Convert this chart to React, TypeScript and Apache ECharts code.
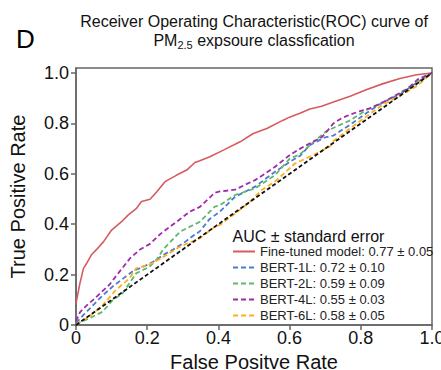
import { useEffect, useRef } from "react";
import * as echarts from "echarts";

const FONT = "'Liberation Sans', Arial, Helvetica, sans-serif";

const seriesNames = [
  "Fine-tuned model: 0.77 ± 0.05",
  "BERT-1L: 0.72 ± 0.10",
  "BERT-2L: 0.59 ± 0.09",
  "BERT-4L: 0.55 ± 0.03",
  "BERT-6L: 0.58 ± 0.05",
];

const seriesColors = ["#d65b5e", "#4a7ccc", "#5fb86a", "#a02aa8", "#ffae1f"];

const fineTunedRoc = [
  [0, 0.086], [0.011, 0.165], [0.021, 0.225], [0.03, 0.245], [0.044, 0.28], [0.058, 0.3],
  [0.077, 0.33], [0.1, 0.377], [0.128, 0.41], [0.147, 0.437], [0.17, 0.463], [0.184, 0.49],
  [0.208, 0.499], [0.227, 0.529], [0.25, 0.569], [0.283, 0.595], [0.311, 0.615], [0.334, 0.645],
  [0.348, 0.652], [0.376, 0.668], [0.414, 0.694], [0.461, 0.727], [0.498, 0.76], [0.536, 0.78],
  [0.582, 0.813], [0.6, 0.825], [0.629, 0.84], [0.657, 0.857], [0.69, 0.868], [0.723, 0.885],
  [0.77, 0.908], [0.817, 0.935], [0.863, 0.958], [0.91, 0.978], [0.957, 0.993], [1, 1],
];

const bert1LRoc = [
  [0, 0.008], [0.021, 0.04], [0.049, 0.08], [0.077, 0.12], [0.105, 0.155], [0.133, 0.185],
  [0.161, 0.215], [0.189, 0.231], [0.217, 0.251], [0.245, 0.278], [0.273, 0.3], [0.301, 0.324],
  [0.33, 0.355], [0.348, 0.372], [0.375, 0.42], [0.404, 0.45], [0.447, 0.509], [0.503, 0.549],
  [0.559, 0.608], [0.601, 0.648], [0.629, 0.671], [0.657, 0.714], [0.7, 0.745], [0.723, 0.752],
  [0.77, 0.795], [0.817, 0.842], [0.863, 0.885], [0.91, 0.915], [0.957, 0.962], [1, 1],
];

const bert2LRoc = [
  [0, 0.003], [0.037, 0.026], [0.075, 0.053], [0.103, 0.099], [0.131, 0.126], [0.169, 0.205],
  [0.206, 0.231], [0.227, 0.26], [0.245, 0.3], [0.292, 0.37], [0.348, 0.41], [0.39, 0.47],
  [0.404, 0.475], [0.447, 0.516], [0.503, 0.542], [0.559, 0.595], [0.601, 0.661], [0.629, 0.677],
  [0.657, 0.714], [0.704, 0.77], [0.77, 0.812], [0.817, 0.855], [0.863, 0.882], [0.91, 0.922],
  [0.957, 0.962], [1, 1],
];

const bert4LRoc = [
  [0, 0.015], [0.011, 0.05], [0.028, 0.075], [0.056, 0.11], [0.094, 0.16], [0.124, 0.215],
  [0.152, 0.265], [0.18, 0.3], [0.208, 0.322], [0.236, 0.36], [0.264, 0.39], [0.292, 0.42],
  [0.32, 0.45], [0.348, 0.469], [0.39, 0.525], [0.404, 0.53], [0.447, 0.537], [0.48, 0.56],
  [0.503, 0.575], [0.53, 0.6], [0.559, 0.628], [0.601, 0.675], [0.63, 0.7], [0.657, 0.721],
  [0.69, 0.745], [0.704, 0.767], [0.723, 0.8], [0.745, 0.82], [0.77, 0.835], [0.8, 0.85],
  [0.826, 0.86], [0.863, 0.885], [0.89, 0.905], [0.93, 0.935], [0.96, 0.975], [1, 1],
];

const bert6LRoc = [
  [0, 0.003], [0.037, 0.033], [0.075, 0.079], [0.112, 0.139], [0.15, 0.185], [0.169, 0.225],
  [0.206, 0.24], [0.236, 0.262], [0.292, 0.311], [0.348, 0.344], [0.39, 0.39], [0.404, 0.397],
  [0.447, 0.443], [0.484, 0.483], [0.522, 0.536], [0.559, 0.569], [0.615, 0.641], [0.657, 0.668],
  [0.713, 0.708], [0.723, 0.73], [0.77, 0.78], [0.817, 0.829], [0.863, 0.876], [0.91, 0.909],
  [0.957, 0.948], [1, 1],
];

const chanceLine = [[0, 0], [1, 1]];

const tickValues = [0, 0.2, 0.4, 0.6, 0.8, 1.0];

const rocData = [fineTunedRoc, bert1LRoc, bert2LRoc, bert4LRoc, bert6LRoc];

const fmt = (v: number) => (v === 0 ? "0" : v.toFixed(1));

export default function App() {
  const ref = useRef<HTMLDivElement>(null);
  useEffect(() => {
    const chart = echarts.init(ref.current!, null, { renderer: "svg" });
    const axisLineStyle = { color: "#666", width: 1.5 };
    chart.setOption({
      animation: false,
      backgroundColor: "#fff",
      textStyle: { fontFamily: FONT },
      grid: {
        left: 76,
        right: 9,
        top: 68,
        bottom: 45,
        containLabel: false,
        outerBoundsMode: "none",
        show: true,
        borderColor: "#666",
        borderWidth: 1.5,
        backgroundColor: "transparent",
      },
      xAxis: {
        type: "value",
        min: 0,
        max: 1,
        interval: 0.2,
        name: "False Positve Rate",
        nameLocation: "middle",
        nameGap: 24,
        nameTextStyle: { fontSize: 20, color: "#111", fontFamily: FONT, lineHeight: 20 },
        axisLine: { show: true, lineStyle: axisLineStyle },
        axisTick: { show: true, length: 5, lineStyle: axisLineStyle },
        axisLabel: { fontSize: 18, color: "#111", margin: 4, formatter: fmt, fontFamily: FONT },
        splitLine: { show: false },
      },
      yAxis: {
        type: "value",
        min: 0,
        max: 1.02,
        name: "True Positive Rate",
        nameLocation: "middle",
        nameGap: 48,
        nameTextStyle: { fontSize: 20, color: "#111", fontFamily: FONT },
        axisLine: { show: true, lineStyle: axisLineStyle },
        axisTick: { show: true, length: 5, lineStyle: axisLineStyle, customValues: tickValues },
        axisLabel: {
          fontSize: 18,
          color: "#111",
          margin: 7,
          formatter: fmt,
          fontFamily: FONT,
          customValues: tickValues,
        },
        splitLine: { show: false },
      },
      legend: {
        data: seriesNames,
        orient: "vertical",
        left: 232,
        top: 245,
        itemWidth: 22,
        itemHeight: 10,
        itemGap: 3,
        padding: 0,
        itemStyle: { opacity: 0 },
        textStyle: { fontSize: 13, color: "#222", fontFamily: FONT, lineHeight: 13 },
      },
      graphic: [
        {
          type: "text",
          x: 16,
          y: 39,
          style: { text: "D", fontSize: 26, fontFamily: FONT, fill: "#000", verticalAlign: "middle" },
        },
        {
          type: "text",
          x: 254,
          y: 21,
          style: {
            text: "Receiver Operating Characteristic(ROC) curve of",
            fontSize: 16,
            fontFamily: FONT,
            fill: "#111",
            align: "center",
            verticalAlign: "middle",
          },
        },
        {
          type: "text",
          x: 254,
          y: 40,
          style: {
            text: "PM{sub|2.5} expsoure classfication",
            fontSize: 16,
            lineHeight: 20,
            fontFamily: FONT,
            fill: "#111",
            align: "center",
            verticalAlign: "middle",
            rich: {
              sub: { fontSize: 11, lineHeight: 4, verticalAlign: "bottom", fontFamily: FONT, fill: "#111" },
            },
          },
        },
        {
          type: "text",
          x: 232.5,
          y: 236,
          style: {
            text: "AUC ± standard error",
            fontSize: 16,
            fontFamily: FONT,
            fill: "#111",
            verticalAlign: "middle",
          },
        },
      ],
      series: [
        ...rocData.map((d, i) => ({
          name: seriesNames[i],
          type: "line",
          data: d,
          symbol: "none",
          showSymbol: false,
          color: seriesColors[i],
          lineStyle: {
            color: seriesColors[i],
            width: i === 0 ? 1.6 : 1.8,
            type: i === 0 ? "solid" : [5, 3],
          },
          z: 2 + i,
        })),
        {
          name: "chance",
          type: "line",
          data: chanceLine,
          symbol: "none",
          showSymbol: false,
          color: "#111",
          lineStyle: { color: "#111", width: 1.8, type: [4, 2.5] },
          z: 10,
        },
      ],
    });
    return () => chart.dispose();
  }, []);
  return (
    <div
      ref={ref}
      style={{ position: "absolute", left: 0, top: 0, width: 441, height: 370 }}
    />
  );
}
